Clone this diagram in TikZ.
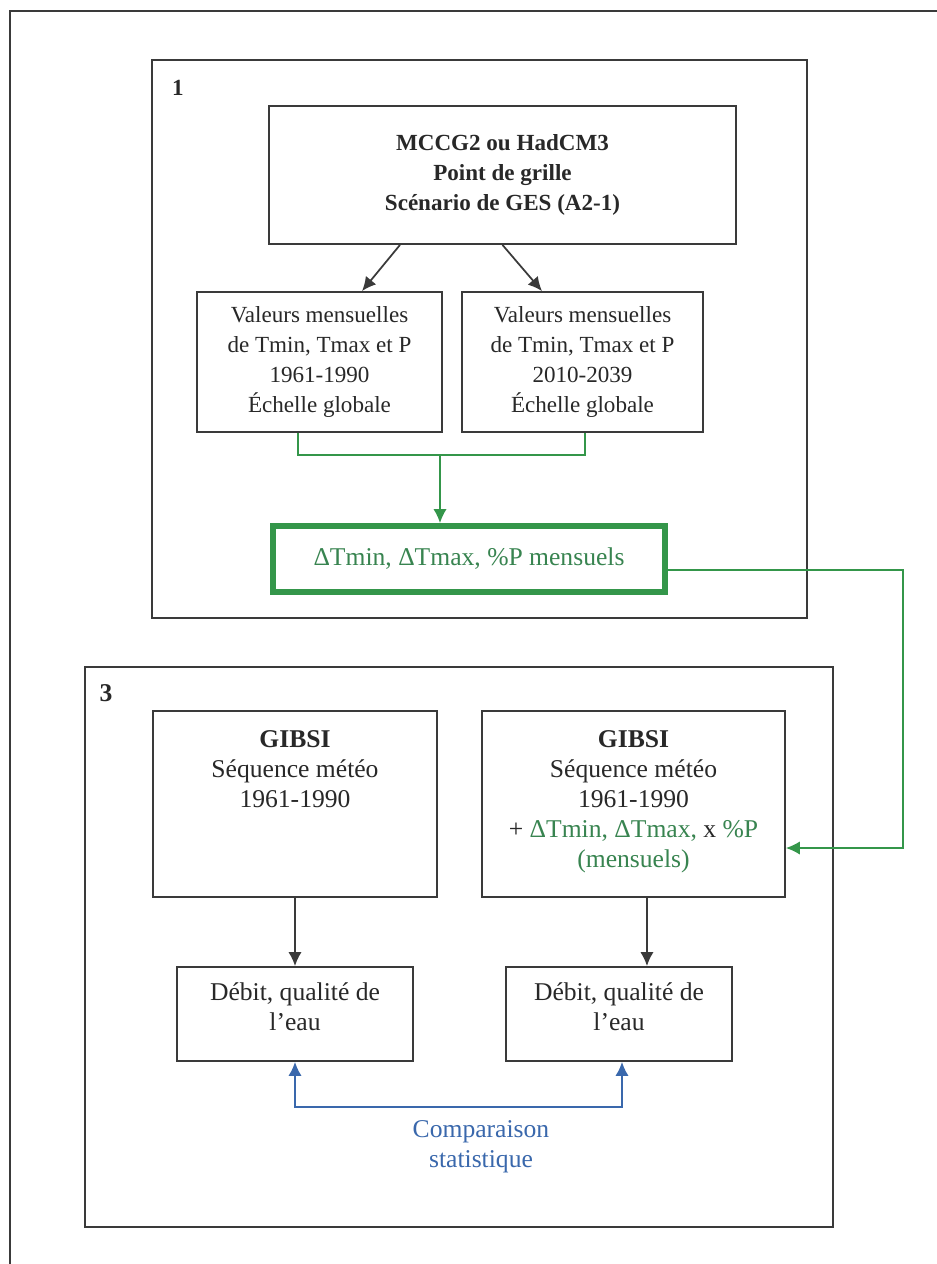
\documentclass[tikz,border=0pt]{standalone}
\usepackage{fontspec}
\setmainfont{Liberation Serif}
\usetikzlibrary{arrows.meta,calc}
\definecolor{lk}{RGB}{58,58,58}
\definecolor{tk}{RGB}{40,40,40}
\definecolor{gline}{RGB}{52,150,74}
\definecolor{gtext}{RGB}{56,132,80}
\definecolor{bline}{RGB}{58,104,172}
\newcommand{\fs}{\fontsize{17.3}{22.5}\selectfont}
\newcommand{\fb}{\fontsize{19.2}{22.5}\selectfont}
\begin{document}
\begin{tikzpicture}[x=0.75pt,y=-0.75pt,
  frame/.style={draw=lk, line width=1.5pt, inner sep=0pt},
  box/.style={draw=lk, line width=1.4pt, fill=white, inner sep=0pt, align=center, font=\fs, text=tk},
  txt/.style={align=center, font=\fb, text=tk, inner sep=0pt},
  arr/.style={-{Latex[length=10.5pt,width=10pt]}},
  garr/.style={draw=gline, line width=1.1pt, -{Latex[length=10.5pt,width=10pt]}},
  barr/.style={draw=bline, line width=1.3pt, {Latex[length=10.5pt,width=10pt]}-{Latex[length=10.5pt,width=10pt]}}]
\useasboundingbox (0,0) rectangle (937,1264);
\fill[white] (0,0) rectangle (937,1264);
% outer frame (only left and top edges visible)
\draw[lk, line width=1.5pt] (10,1264) -- (10,11) -- (937,11);

% frame 1
\node[frame, minimum width=491.25pt, minimum height=418.5pt] (f1) at (479.5,339) {};
\node[txt, font=\fs\bfseries] (l1) at (178,88) {1};
\node[box, font=\fs\bfseries, minimum width=350.25pt, minimum height=103.5pt] (mccg) at (502.5,175)
  {MCCG2 ou HadCM3\\Point de grille\\Scénario de GES (A2-1)};
\node[box, minimum width=183.75pt, minimum height=105pt] (v1) at (319.5,362)
  {Valeurs mensuelles\\de Tmin, Tmax et P\\1961-1990\\Échelle globale};
\node[box, minimum width=180.75pt, minimum height=105pt] (v2) at (582.5,362)
  {Valeurs mensuelles\\de Tmin, Tmax et P\\2010-2039\\Échelle globale};
\node[box, font=\fb, draw=gline, line width=4.5pt, text=gtext, minimum width=294pt, minimum height=49.5pt] (delta) at (469,559)
  {ΔTmin, ΔTmax, \%P mensuels};

\draw[lk, line width=1.3pt, arr] ([xshift=-76.9pt]mccg.south) -- ([xshift=31.9pt]v1.north);
\draw[lk, line width=1.3pt, arr] (mccg.south) -- ([xshift=-30.4pt]v2.north);

\coordinate (j) at (440,455);
\draw[gline, line width=1.1pt] ([xshift=-16.1pt]v1.south) |- (j) -| ([xshift=1.9pt]v2.south);
\draw[garr] (j) -- (j |- delta.north);

% frame 3
\node[frame, minimum width=561pt, minimum height=420pt] (f3) at (459,947) {};
\node[txt, font=\fb\bfseries] (l3) at (106,693) {3};
\node[box, minimum width=213pt, minimum height=139.5pt] (g1) at (295,804) {};
\node[txt, anchor=north] (g1t) at (295,730) {\textbf{GIBSI}\\Séquence météo\\1961-1990};
\node[box, minimum width=227.25pt, minimum height=139.5pt] (g2) at (633.5,804) {};
\node[txt, anchor=north] (g2t) at (633.5,730) {\textbf{GIBSI}\\Séquence météo\\1961-1990\\+ \textcolor{gtext}{ΔTmin, ΔTmax,} x \textcolor{gtext}{\%P}\\\textcolor{gtext}{(mensuels)}};
\node[box, minimum width=177pt, minimum height=70.5pt] (d1) at (295,1014) {};
\node[txt, anchor=north] (d1t) at (295,982) {Débit, qualité de\\l’eau};
\node[box, minimum width=169.5pt, minimum height=70.5pt] (d2) at (619,1014) {};
\node[txt, anchor=north] (d2t) at (619,982) {Débit, qualité de\\l’eau};

\draw[lk, line width=1.3pt, arr] (g1.south) -- (d1.north);
\draw[lk, line width=1.3pt, arr] ([xshift=10.1pt]g2.south) -- ([xshift=10.1pt]g2.south |- d2.north);

\coordinate (cb) at (458,1107);
\draw[barr] (d1.south) |- (cb) -| ([xshift=2.25pt]d2.south);
\node[txt, text=bline] (comp) at (481,1147) {Comparaison\\statistique};

% green feedback connector
\coordinate (gr) at (903,848);
\draw[garr] ([yshift=-8.25pt]delta.east) -| (gr) -- (gr -| g2.east);
\end{tikzpicture}
\end{document}
